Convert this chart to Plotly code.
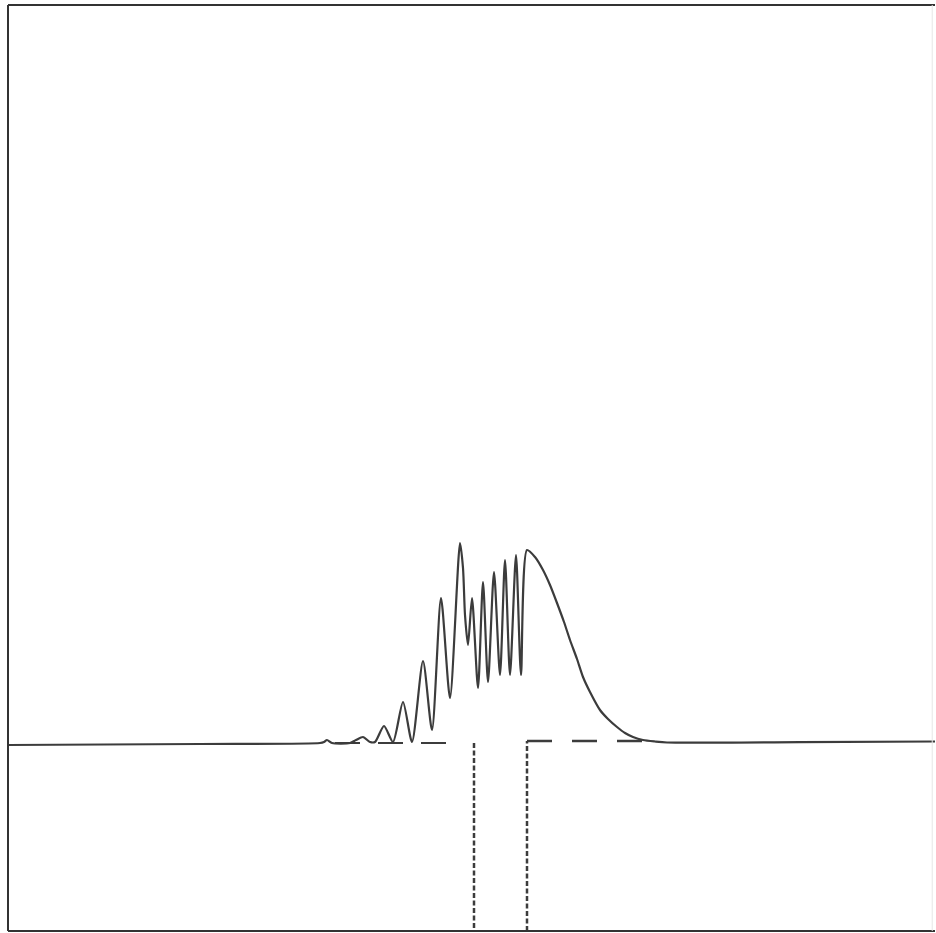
import plotly.graph_objects as go

# Wave packet amplitude (x = horizontal position, y = amplitude above baseline)
wave_x = [8, 200, 320, 324, 327, 332, 350, 356, 363, 370, 375, 384, 393, 403, 412, 423, 432,
          441, 450, 460, 463, 465, 468, 472, 478, 483, 488, 494, 500, 505, 510, 516, 521,
          527, 535, 543, 550, 557, 564, 570, 577, 583, 590, 600, 608, 617, 625, 633, 643,
          655, 667, 800, 936]
wave_y = [0, 1, 2, 3, 5, 2, 2, 5, 8, 3, 3, 19, 3, 43, 3, 84, 15,
          147, 47, 202, 177, 130, 100, 147, 57, 163, 63, 173, 70, 185, 70, 190, 70,
          195, 188, 175, 160, 142, 123, 105, 86, 68, 53, 35, 26, 18, 12, 8, 5,
          3.5, 2.5, 2.8, 3.5]

# Potential well (dashed): level outside, walls at the well edges
level_left = 2
level_right = 4
well_left = 474
well_right = 527
well_bottom = -186
left_dash_x = [335, 452]
right_dash_x = [527, 660]

X_RANGE = [8, 935]
Y_RANGE = [-186, 740]
ink = "#3c3c3c"

fig = go.Figure()

# horizontal dashed segments of the well
fig.add_trace(go.Scatter(x=left_dash_x, y=[level_left, level_left], mode="lines",
                         line=dict(color=ink, width=2, dash="25px,18px"), hoverinfo="skip"))
fig.add_trace(go.Scatter(x=right_dash_x, y=[level_right, level_right], mode="lines",
                         line=dict(color=ink, width=2.5, dash="25px,20px"), hoverinfo="skip"))
# vertical walls
fig.add_trace(go.Scatter(x=[well_left, well_left], y=[level_left, well_bottom], mode="lines",
                         line=dict(color=ink, width=2.5, dash="5px,2.5px"), hoverinfo="skip"))
fig.add_trace(go.Scatter(x=[well_right, well_right], y=[well_bottom, level_right], mode="lines",
                         line=dict(color=ink, width=2.5, dash="5px,2.5px"), hoverinfo="skip"))

# wave packet
fig.add_trace(go.Scatter(x=wave_x, y=wave_y, mode="lines",
                         line=dict(color=ink, width=2.2, shape="spline", smoothing=0.7),
                         hoverinfo="skip"))

fig.update_layout(
    width=936, height=933,
    margin=dict(l=8, r=1, t=5, b=2),
    paper_bgcolor="white", plot_bgcolor="white",
    showlegend=False,
    xaxis=dict(range=X_RANGE, showgrid=False, zeroline=False, showticklabels=False,
               ticks="", showline=False),
    yaxis=dict(range=Y_RANGE, showgrid=False, zeroline=False, showticklabels=False,
               ticks="", showline=False),
    shapes=[
        dict(type="line", xref="paper", yref="paper", x0=0, x1=0, y0=0, y1=1,
             line=dict(color="#333333", width=2)),
        dict(type="line", xref="paper", yref="paper", x0=0, x1=1, y0=1, y1=1,
             line=dict(color="#333333", width=2)),
        dict(type="line", xref="paper", yref="paper", x0=0, x1=1, y0=0, y1=0,
             line=dict(color="#333333", width=2)),
        dict(type="line", xref="paper", yref="paper", x0=0.997, x1=0.997, y0=0, y1=1,
             line=dict(color="#e6e6e6", width=1)),
    ],
)

fig.write_html("out.html")
